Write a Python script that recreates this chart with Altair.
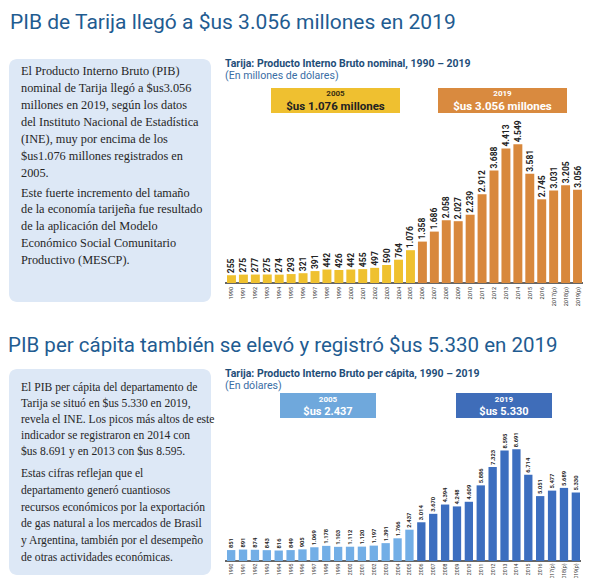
import altair as alt
import pandas as pd

# ---------------- data ----------------
years = ["1990", "1991", "1992", "1993", "1994", "1995", "1996", "1997", "1998", "1999",
         "2000", "2001", "2002", "2003", "2004", "2005", "2006", "2007", "2008", "2009",
         "2010", "2011", "2012", "2013", "2014", "2015", "2016", "2017(p)", "2018(p)", "2019(p)"]
pib_nominal = [255, 275, 277, 275, 274, 293, 321, 391, 442, 426,
               442, 455, 497, 590, 764, 1076, 1358, 1686, 2058, 2027,
               2239, 2912, 3688, 4413, 4549, 3581, 2745, 3031, 3205, 3056]
pib_percapita = [851, 891, 874, 843, 816, 849, 905, 1069, 1178, 1103,
                 1112, 1120, 1197, 1391, 1766, 2437, 3014, 3670, 4394, 4248,
                 4609, 5886, 7323, 8595, 8691, 6714, 5051, 5477, 5689, 5330]
periods = ["1990-2005", "2006-2019"]

headline1 = "PIB de Tarija llegó a $us 3.056 millones en 2019"
headline2 = "PIB per cápita también se elevó y registró $us 5.330 en 2019"
title1 = "Tarija: Producto Interno Bruto nominal, 1990 – 2019"
sub1 = "(En millones de dólares)"
title2 = "Tarija: Producto Interno Bruto per cápita, 1990 – 2019"
sub2 = "(En dólares)"

p1a = ["El Producto Interno Bruto (PIB)",
       "nominal  de Tarija llegó a $us3.056",
       "millones en 2019, según los datos",
       "del Instituto Nacional de Estadística",
       "(INE), muy por encima de los",
       "$us1.076 millones registrados en",
       "2005."]
p1b = ["Este fuerte incremento del tamaño",
       "de la economía tarijeña fue resultado",
       "de la aplicación del Modelo",
       "Económico Social Comunitario",
       "Productivo (MESCP)."]
p2a = ["El PIB per cápita del departamento de",
       "Tarija se situó en $us 5.330 en 2019,",
       "revela el INE. Los picos más altos de este",
       "indicador se registraron en 2014 con",
       "$us 8.691 y en 2013 con $us 8.595."]
p2b = ["Estas cifras reflejan que el",
       "departamento generó cuantiosos",
       "recursos económicos por la exportación",
       "de gas natural a los mercados de Brasil",
       "y Argentina, también por el desempeño",
       "de otras actividades económicas."]


def fmt(v):
    return f"{v:,}".replace(",", ".")


def make_df(vals):
    df = pd.DataFrame({"year": years, "value": vals})
    df["label"] = df["value"].map(fmt)
    df["period"] = [periods[0] if i <= 15 else periods[1] for i in range(len(years))]
    return df


df1 = make_df(pib_nominal)
df2 = make_df(pib_percapita)

one = pd.DataFrame({"k": [0]})

HEAD = "#1f5c91"
TITLE = "#1f4e79"
SUB = "#3a6ea5"
PANEL = "#dde8f6"
BODY = "#262626"


def txt(s, x, y, size, color, weight="normal", font="Roboto", align="left",
        baseline="alphabetic", lh=None):
    kw = dict(text=s, font=font, fontSize=size, color=color, fontWeight=weight,
              align=align, baseline=baseline)
    if lh is not None:
        kw["lineHeight"] = lh
    return alt.Chart(one).mark_text(**kw).encode(x=alt.value(x), y=alt.value(y))


def box(x0, x1, y0, y1, color, radius=0):
    return alt.Chart(one).mark_rect(color=color, cornerRadius=radius).encode(
        x=alt.value(x0), x2=alt.value(x1), y=alt.value(y0), y2=alt.value(y1))


def rule(x0, x1, y):
    return alt.Chart(one).mark_rule(color="#333333", strokeWidth=1.5).encode(
        x=alt.value(x0), x2=alt.value(x1), y=alt.value(y))


def bar_group(df, xrange, pin, ydom, yrange, colors, lab_size, xlab_y, xlab_size):
    x = alt.X("year:N", sort=years,
              scale=alt.Scale(domain=years, range=xrange, paddingInner=pin, paddingOuter=0),
              axis=None)
    y = alt.Y("value:Q", scale=alt.Scale(domain=ydom, range=yrange), axis=None)
    bars = alt.Chart(df).mark_bar().encode(
        x=x, y=y,
        color=alt.Color("period:N", scale=alt.Scale(domain=periods, range=colors), legend=None))
    vlab = alt.Chart(df).mark_text(angle=270, align="left", baseline="middle", dx=2,
                                   font="Roboto", fontWeight="bold", fontSize=lab_size,
                                   color="#222222").encode(x=x, y=y, text="label:N")
    xlab = alt.Chart(df).mark_text(angle=270, align="right", baseline="middle",
                                   font="Roboto", fontSize=xlab_size,
                                   color="#333333").encode(x=x, y=alt.value(xlab_y), text="year:N")
    return alt.layer(bars, vlab, xlab)


top = bar_group(df1, [219, 574], 0.25, [0, 5000], [275, 122.55],
                ["#efc12f", "#d8883c"], 8.5, 279, 5.5)
bottom = bar_group(df2, [219, 572], 0.3, [0, 10000], [553, 424.5],
                   ["#72aee6", "#3c6ebf"], 5.8, 555.5, 5.2)

deco = [
    # row 1
    txt(headline1, 2, 21, 21, HEAD),
    box(1, 203, 51, 294, PANEL, 8),
    txt(p1a, 13, 66.5, 12.3, BODY, font="Liberation Serif", lh=17),
    txt(p1b, 13, 188.5, 12.3, BODY, font="Liberation Serif", lh=16.8),
    txt(title1, 217, 59, 10.5, TITLE, weight="bold"),
    txt(sub1, 217, 71, 10.6, SUB),
    box(263, 392, 80, 105, "#efc030"),
    txt("2005", 327.5, 85.5, 8, "#3a2f10", weight="bold", align="center", baseline="middle"),
    txt("$us 1.076 millones", 327.5, 99, 11.5, "#222222", weight="bold", align="center", baseline="middle"),
    box(430, 559, 80, 105, "#d98a3f"),
    txt("2019", 494.5, 85.5, 8, "white", weight="bold", align="center", baseline="middle"),
    txt("$us 3.056 millones", 494.5, 99, 11.5, "white", weight="bold", align="center", baseline="middle"),
    rule(217, 575, 275),
    # row 2
    txt(headline2, 0, 344, 20.5, HEAD),
    box(1, 203, 361, 567, PANEL, 8),
    txt(p2a, 13, 383, 11.6, BODY, font="Liberation Serif", lh=16.1),
    txt(p2b, 13, 469, 11.6, BODY, font="Liberation Serif", lh=16.8),
    txt(title2, 217, 368.5, 10.5, TITLE, weight="bold"),
    txt(sub2, 217, 380.5, 10.6, SUB),
    box(272, 368, 385, 410, "#6fa8dc"),
    txt("2005", 320, 392, 8, "white", weight="bold", align="center", baseline="middle"),
    txt("$us 2.437", 320, 404, 11, "white", weight="bold", align="center", baseline="middle"),
    box(448, 544, 385, 410, "#3f6db9"),
    txt("2019", 496, 392, 8, "white", weight="bold", align="center", baseline="middle"),
    txt("$us 5.330", 496, 404, 11, "white", weight="bold", align="center", baseline="middle"),
    rule(217, 573, 553),
]

chart = alt.layer(*deco, top, bottom).resolve_scale(
    x="independent", y="independent", color="independent"
).properties(
    width=584, height=570, padding=0,
    autosize=alt.AutoSizeParams(type="none"),
    background="white",
).configure_view(stroke=None)

chart.save("out.html", embed_options={"renderer": "svg", "actions": False})
